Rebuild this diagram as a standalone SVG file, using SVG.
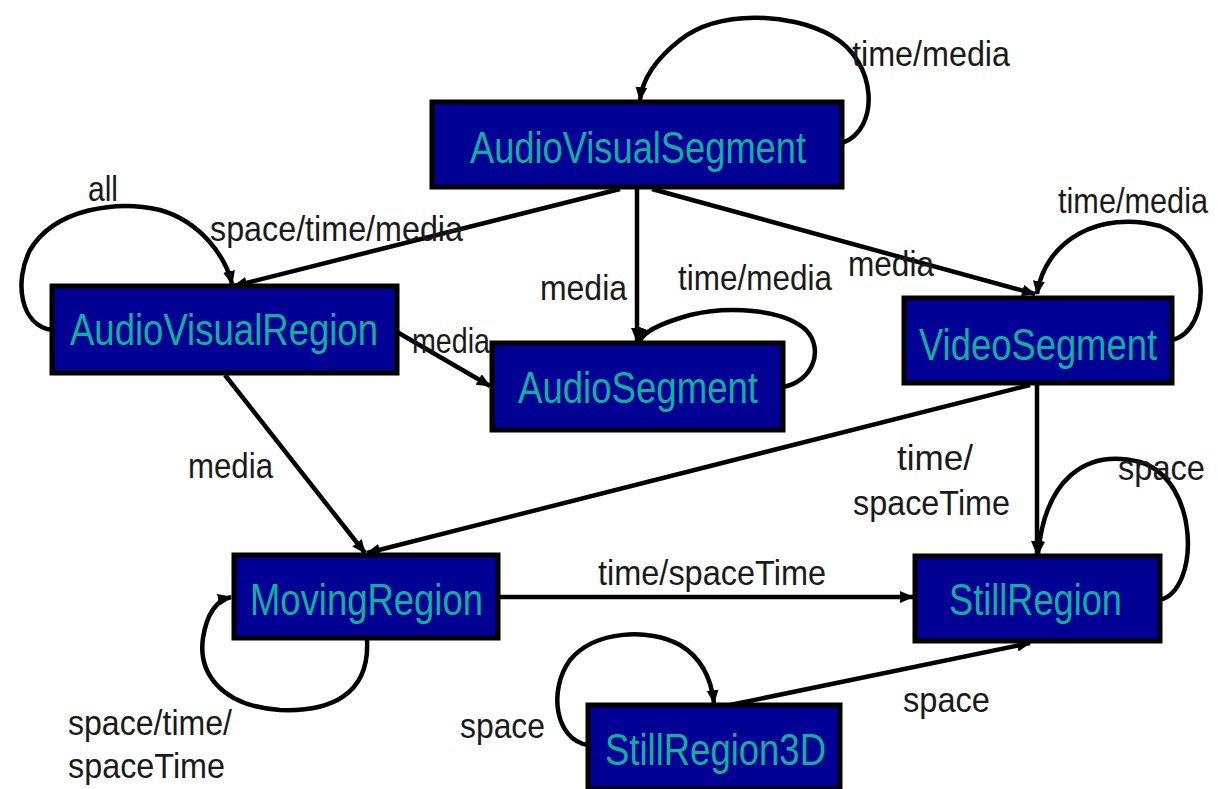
<svg xmlns="http://www.w3.org/2000/svg" width="1218" height="789" viewBox="0 0 1218 789">
<style>
.node rect{fill:#000094;stroke:#000;stroke-width:5}
.node text{font-family:"Liberation Sans",Arial,sans-serif;font-size:44px;fill:#10b0a0}
.lbl{font-family:"Liberation Sans",Arial,sans-serif;font-size:35px;fill:#1a1a1a}
.edges path{fill:none;stroke:#000;stroke-width:4.5;marker-end:url(#arr)}
</style>
<defs>
<marker id="arr" markerUnits="userSpaceOnUse" markerWidth="14" markerHeight="12" refX="13" refY="6" orient="auto">
<path d="M0,0 L14,6 L0,12 z" fill="#000"/>
</marker>
</defs>
<rect width="1218" height="789" fill="#fff"/>
<g class="edges">
<path d="M842,143 C880,130 878,62 832,36 C790,12 718,10 680,40 C652,62 642,82 640,100"/>
<path d="M620,189 L234,286"/>
<path d="M637,189 L637,341"/>
<path d="M652,189 L1035,294"/>
<path d="M52,330 C20,325 14,282 30,250 C55,208 118,200 160,210 C202,222 226,258 232,284"/>
<path d="M397,332 L490,386"/>
<path d="M225,375 L365,553"/>
<path d="M783,387 C812,382 825,350 806,330 C785,310 730,305 690,315 C655,325 643,333 640,341"/>
<path d="M1172,340 C1212,330 1212,245 1160,226 C1100,210 1045,240 1037,294"/>
<path d="M1030,385 L367,553"/>
<path d="M1037,385 L1037,554"/>
<path d="M498,597 L913,597"/>
<path d="M367,640 C370,695 330,712 280,710 C220,706 198,672 203,638 C207,612 218,600 231,597"/>
<path d="M1160,600 C1200,590 1200,480 1140,462 C1085,448 1045,480 1038,554"/>
<path d="M588,745 C555,740 548,690 570,660 C595,630 650,628 680,645 C705,660 712,685 714,703"/>
<path d="M730,705 L1030,643"/>
</g>
<g id="n-avs" class="node"><rect x="432" y="102" width="410" height="85"/><text x="470" y="163" textLength="336" lengthAdjust="spacingAndGlyphs">AudioVisualSegment</text></g>
<g id="n-avr" class="node"><rect x="52" y="286" width="345" height="87"/><text x="70" y="345" textLength="308" lengthAdjust="spacingAndGlyphs">AudioVisualRegion</text></g>
<g id="n-as" class="node"><rect x="492" y="343" width="291" height="87"/><text x="518" y="403" textLength="240" lengthAdjust="spacingAndGlyphs">AudioSegment</text></g>
<g id="n-vs" class="node"><rect x="904" y="298" width="268" height="85"/><text x="919" y="360" textLength="238" lengthAdjust="spacingAndGlyphs">VideoSegment</text></g>
<g id="n-mr" class="node"><rect x="234" y="555" width="264" height="83"/><text x="250" y="615" textLength="233" lengthAdjust="spacingAndGlyphs">MovingRegion</text></g>
<g id="n-sr" class="node"><rect x="915" y="556" width="245" height="85"/><text x="949" y="615" textLength="173" lengthAdjust="spacingAndGlyphs">StillRegion</text></g>
<g id="n-sr3d" class="node"><rect x="588" y="705" width="252" height="84"/><text x="605" y="765" textLength="221" lengthAdjust="spacingAndGlyphs">StillRegion3D</text></g>
<g id="labels">
<text class="lbl" x="852" y="66" textLength="158" lengthAdjust="spacingAndGlyphs">time/media</text>
<text class="lbl" x="88" y="201" textLength="30" lengthAdjust="spacingAndGlyphs">all</text>
<text class="lbl" x="210" y="241" textLength="253" lengthAdjust="spacingAndGlyphs">space/time/media</text>
<text class="lbl" x="540" y="300" textLength="87" lengthAdjust="spacingAndGlyphs">media</text>
<text class="lbl" x="848" y="276" textLength="86" lengthAdjust="spacingAndGlyphs">media</text>
<text class="lbl" x="678" y="290" textLength="154" lengthAdjust="spacingAndGlyphs">time/media</text>
<text class="lbl" x="1058" y="213" textLength="150" lengthAdjust="spacingAndGlyphs">time/media</text>
<text class="lbl" x="412" y="353" textLength="78" lengthAdjust="spacingAndGlyphs">media</text>
<text class="lbl" x="188" y="478" textLength="85" lengthAdjust="spacingAndGlyphs">media</text>
<text class="lbl" x="897" y="470" textLength="76" lengthAdjust="spacingAndGlyphs">time/</text>
<text class="lbl" x="853" y="515" textLength="157" lengthAdjust="spacingAndGlyphs">spaceTime</text>
<text class="lbl" x="1118" y="480" textLength="87" lengthAdjust="spacingAndGlyphs">space</text>
<text class="lbl" x="598" y="585" textLength="228" lengthAdjust="spacingAndGlyphs">time/spaceTime</text>
<text class="lbl" x="68" y="735" textLength="164" lengthAdjust="spacingAndGlyphs">space/time/</text>
<text class="lbl" x="68" y="778" textLength="157" lengthAdjust="spacingAndGlyphs">spaceTime</text>
<text class="lbl" x="460" y="738" textLength="85" lengthAdjust="spacingAndGlyphs">space</text>
<text class="lbl" x="903" y="712" textLength="87" lengthAdjust="spacingAndGlyphs">space</text>
</g>
</svg>
